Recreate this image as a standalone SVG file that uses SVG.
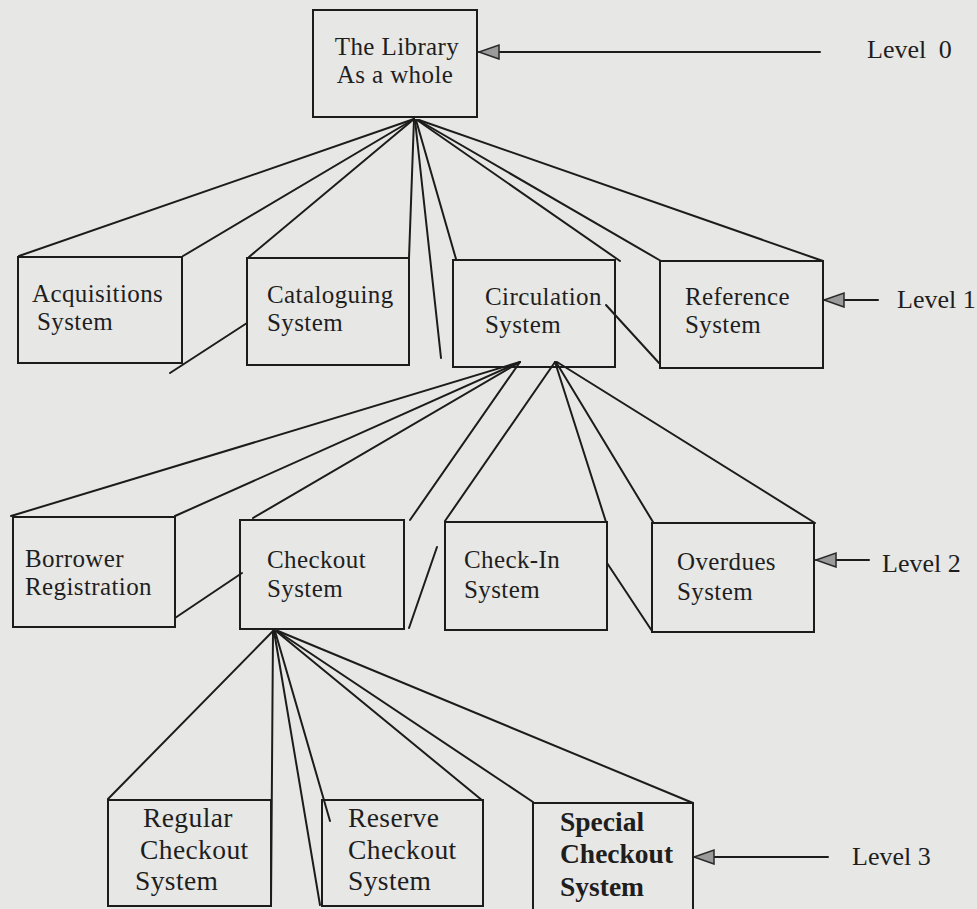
<svg xmlns="http://www.w3.org/2000/svg" width="977" height="909" viewBox="0 0 977 909">
<style>
.box{fill:none;stroke:#1c1c1c;stroke-width:2}
.ln{stroke:#1c1c1c;stroke-width:2;fill:none;stroke-linecap:round}
.t{font-family:"Liberation Serif","Times New Roman",serif;font-size:25px;letter-spacing:0.4px;fill:#1e1e1e}
.t3{font-family:"Liberation Serif","Times New Roman",serif;font-size:27.5px;letter-spacing:0.4px;fill:#1e1e1e}
.b{font-weight:bold;letter-spacing:0}
.lv{font-family:"Liberation Serif","Times New Roman",serif;font-size:26px;fill:#1e1e1e}
</style>
<defs>
<marker id="ah" markerUnits="userSpaceOnUse" markerWidth="24" markerHeight="18" refX="21" refY="8" orient="auto">
<path d="M1,1 L21,8 L1,15 z" fill="#9a9a9a" stroke="#2a2a2a" stroke-width="1.5"/>
</marker>
</defs>
<rect x="0" y="0" width="977" height="909" fill="#e7e7e5"/>

<g id="connectors">
<line class="ln" x1="414" y1="119" x2="19" y2="256"/>
<line class="ln" x1="414" y1="119" x2="183" y2="256"/>
<line class="ln" x1="414" y1="119" x2="249" y2="257"/>
<line class="ln" x1="414" y1="119" x2="409" y2="258"/>
<line class="ln" x1="415" y1="120" x2="441" y2="358"/>
<line class="ln" x1="416" y1="120" x2="456" y2="259"/>
<line class="ln" x1="417" y1="120" x2="620" y2="261"/>
<line class="ln" x1="418" y1="120" x2="661" y2="261"/>
<line class="ln" x1="419" y1="120" x2="823" y2="261"/>
<line class="ln" x1="247" y1="323" x2="170" y2="373"/>
<line class="ln" x1="606" y1="305" x2="659" y2="363"/>
<line class="ln" x1="520" y1="362" x2="11" y2="516"/>
<line class="ln" x1="520" y1="362" x2="175" y2="516"/>
<line class="ln" x1="520" y1="362" x2="253" y2="518"/>
<line class="ln" x1="520" y1="362" x2="410" y2="520"/>
<line class="ln" x1="555" y1="362" x2="445" y2="521"/>
<line class="ln" x1="555" y1="362" x2="606" y2="522"/>
<line class="ln" x1="556" y1="362" x2="653" y2="522"/>
<line class="ln" x1="557" y1="362" x2="815" y2="523"/>
<line class="ln" x1="242" y1="573" x2="175" y2="618"/>
<line class="ln" x1="437" y1="547" x2="409" y2="628"/>
<line class="ln" x1="607" y1="563" x2="652" y2="631"/>
<line class="ln" x1="273" y1="631" x2="108" y2="799"/>
<line class="ln" x1="273" y1="631" x2="271" y2="906"/>
<line class="ln" x1="274" y1="631" x2="320" y2="905"/>
<line class="ln" x1="275" y1="631" x2="330" y2="821"/>
<line class="ln" x1="276" y1="631" x2="483" y2="801"/>
<line class="ln" x1="277" y1="631" x2="533" y2="802"/>
<line class="ln" x1="278" y1="631" x2="693" y2="803"/>
<line class="ln" x1="820" y1="52" x2="479" y2="52" marker-end="url(#ah)"/>
<line class="ln" x1="878" y1="300" x2="824" y2="300" marker-end="url(#ah)"/>
<line class="ln" x1="869" y1="560" x2="816" y2="560" marker-end="url(#ah)"/>
<line class="ln" x1="828" y1="857" x2="694" y2="857" marker-end="url(#ah)"/>
</g>

<g id="n-library">
<rect class="box" x="313" y="10" width="164" height="107"/>
<text class="t" x="397" y="55" text-anchor="middle">The Library</text>
<text class="t" x="395" y="83" text-anchor="middle">As a whole</text>
</g>

<g id="n-acquisitions">
<rect class="box" x="18" y="257" width="164" height="106"/>
<text class="t" x="32" y="302">Acquisitions</text>
<text class="t" x="37" y="330">System</text>
</g>
<g id="n-cataloguing">
<rect class="box" x="247" y="258" width="162" height="107"/>
<text class="t" x="267" y="303">Cataloguing</text>
<text class="t" x="267" y="331">System</text>
</g>
<g id="n-circulation">
<rect class="box" x="453" y="260" width="162" height="107"/>
<text class="t" x="485" y="305">Circulation</text>
<text class="t" x="485" y="333">System</text>
</g>
<g id="n-reference">
<rect class="box" x="660" y="261" width="163" height="107"/>
<text class="t" x="685" y="305">Reference</text>
<text class="t" x="685" y="333">System</text>
</g>

<g id="n-borrower">
<rect class="box" x="13" y="517" width="162" height="110"/>
<text class="t" x="25" y="567">Borrower</text>
<text class="t" x="25" y="595">Registration</text>
</g>
<g id="n-checkout">
<rect class="box" x="240" y="520" width="164" height="109"/>
<text class="t" x="267" y="568">Checkout</text>
<text class="t" x="267" y="597">System</text>
</g>
<g id="n-checkin">
<rect class="box" x="445" y="522" width="162" height="108"/>
<text class="t" x="464" y="568">Check-In</text>
<text class="t" x="464" y="598">System</text>
</g>
<g id="n-overdues">
<rect class="box" x="652" y="523" width="162" height="109"/>
<text class="t" x="677" y="570">Overdues</text>
<text class="t" x="677" y="600">System</text>
</g>

<g id="n-regular">
<rect class="box" x="108" y="800" width="163" height="106"/>
<text class="t3" x="143" y="827">Regular</text>
<text class="t3" x="140" y="859">Checkout</text>
<text class="t3" x="135" y="890">System</text>
</g>
<g id="n-reserve">
<rect class="box" x="322" y="800" width="161" height="106"/>
<text class="t3" x="348" y="827">Reserve</text>
<text class="t3" x="348" y="859">Checkout</text>
<text class="t3" x="348" y="890">System</text>
</g>
<g id="n-special">
<rect class="box" x="533" y="803" width="160" height="108"/>
<text class="t3 b" x="560" y="831">Special</text>
<text class="t3 b" x="560" y="863">Checkout</text>
<text class="t3 b" x="560" y="896">System</text>
</g>

<g id="level-labels">
<text class="lv" x="867" y="58">Level <tspan dx="6">0</tspan></text>
<text class="lv" x="897" y="308">Level 1</text>
<text class="lv" x="882" y="572">Level 2</text>
<text class="lv" x="852" y="865">Level 3</text>
</g>
</svg>
